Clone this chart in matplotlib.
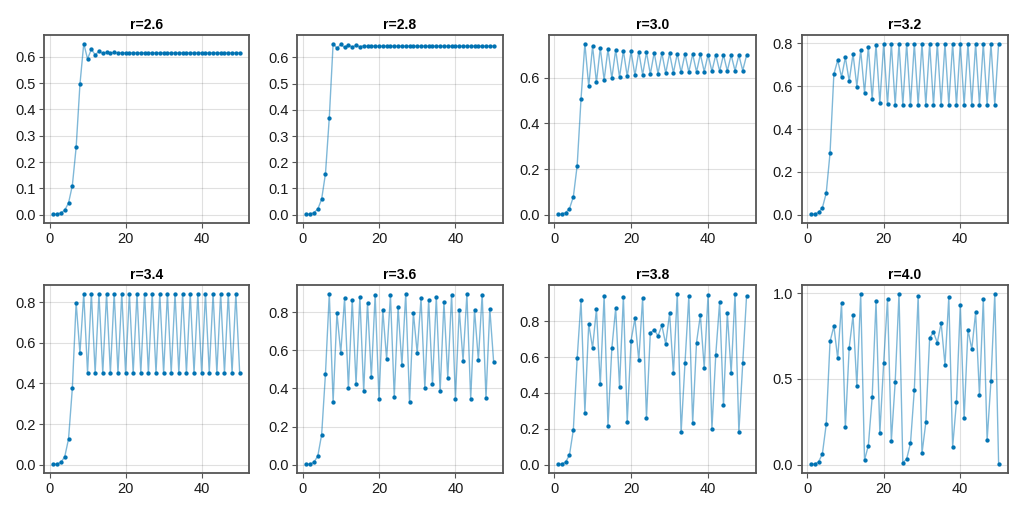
import matplotlib
matplotlib.use("Agg")
import matplotlib.pyplot as plt
from matplotlib.ticker import FormatStrFormatter

plt.rcParams['font.family'] = ['Liberation Sans', 'DejaVu Sans']

steps = list(range(1, 51))

# values, one list per r
x_r26 = [0.001, 0.0026, 0.0067, 0.0174, 0.0445, 0.1105, 0.2556, 0.4947, 0.6499, 0.5916,
         0.6283, 0.6073, 0.6201, 0.6125, 0.6171, 0.6144, 0.6160, 0.6151, 0.6156, 0.6153,
         0.6155, 0.6154, 0.6154, 0.6154, 0.6154, 0.6154, 0.6154, 0.6154, 0.6154, 0.6154,
         0.6154, 0.6154, 0.6154, 0.6154, 0.6154, 0.6154, 0.6154, 0.6154, 0.6154, 0.6154,
         0.6154, 0.6154, 0.6154, 0.6154, 0.6154, 0.6154, 0.6154, 0.6154, 0.6154, 0.6154]
x_r28 = [0.001, 0.0028, 0.0078, 0.0217, 0.0595, 0.1567, 0.3699, 0.6526, 0.6348, 0.6492,
         0.6377, 0.6469, 0.6396, 0.6454, 0.6408, 0.6445, 0.6415, 0.6439, 0.6420, 0.6435,
         0.6423, 0.6433, 0.6425, 0.6431, 0.6426, 0.6430, 0.6427, 0.6430, 0.6428, 0.6429,
         0.6428, 0.6429, 0.6428, 0.6429, 0.6428, 0.6429, 0.6429, 0.6429, 0.6429, 0.6429,
         0.6429, 0.6429, 0.6429, 0.6429, 0.6429, 0.6429, 0.6429, 0.6429, 0.6429, 0.6429]
x_r30 = [0.001, 0.0030, 0.0090, 0.0267, 0.0779, 0.2155, 0.5072, 0.7499, 0.5627, 0.7382,
         0.5798, 0.7309, 0.5901, 0.7257, 0.5972, 0.7217, 0.6026, 0.7184, 0.6069, 0.7157,
         0.6104, 0.7135, 0.6133, 0.7115, 0.6158, 0.7098, 0.6180, 0.7082, 0.6199, 0.7069,
         0.6216, 0.7056, 0.6232, 0.7045, 0.6246, 0.7035, 0.6258, 0.7025, 0.6270, 0.7017,
         0.6280, 0.7008, 0.6290, 0.7001, 0.6299, 0.6994, 0.6308, 0.6988, 0.6316, 0.6981]
x_r32 = [0.001, 0.0032, 0.0102, 0.0323, 0.1001, 0.2883, 0.6566, 0.7216, 0.6429, 0.7346,
         0.6238, 0.7509, 0.5985, 0.7690, 0.5685, 0.7850, 0.5401, 0.7949, 0.5218, 0.7985,
         0.5149, 0.7993, 0.5133, 0.7994, 0.5131, 0.7995, 0.5130, 0.7995, 0.5130, 0.7995,
         0.5130, 0.7995, 0.5130, 0.7995, 0.5130, 0.7995, 0.5130, 0.7995, 0.5130, 0.7995,
         0.5130, 0.7995, 0.5130, 0.7995, 0.5130, 0.7995, 0.5130, 0.7995, 0.5130, 0.7995]
x_r34 = [0.001, 0.0034, 0.0115, 0.0387, 0.1266, 0.3758, 0.7976, 0.5489, 0.8419, 0.4526,
         0.8424, 0.4515, 0.8422, 0.4521, 0.8422, 0.4520, 0.8422, 0.4520, 0.8422, 0.4520,
         0.8422, 0.4520, 0.8422, 0.4520, 0.8422, 0.4520, 0.8422, 0.4520, 0.8422, 0.4520,
         0.8422, 0.4520, 0.8422, 0.4520, 0.8422, 0.4520, 0.8422, 0.4520, 0.8422, 0.4520,
         0.8422, 0.4520, 0.8422, 0.4520, 0.8422, 0.4520, 0.8422, 0.4520, 0.8422, 0.4520]
x_r36 = [0.001, 0.0036, 0.0129, 0.0459, 0.1576, 0.4779, 0.8982, 0.3291, 0.7948, 0.5871,
         0.874, 0.401, 0.865, 0.424, 0.881, 0.384, 0.851, 0.459, 0.893, 0.342,
         0.811, 0.555, 0.890, 0.356, 0.825, 0.522, 0.898, 0.329, 0.797, 0.587,
         0.874, 0.401, 0.865, 0.424, 0.881, 0.384, 0.853, 0.455, 0.893, 0.345,
         0.814, 0.545, 0.895, 0.345, 0.814, 0.548, 0.893, 0.349, 0.818, 0.539]
x_r38 = [0.001, 0.0038, 0.0144, 0.0539, 0.1937, 0.5935, 0.9168, 0.290, 0.785, 0.651,
         0.867, 0.447, 0.943, 0.217, 0.648, 0.872, 0.434, 0.937, 0.239, 0.692,
         0.815, 0.581, 0.930, 0.262, 0.735, 0.752, 0.718, 0.776, 0.672, 0.845,
         0.509, 0.954, 0.180, 0.564, 0.939, 0.232, 0.681, 0.833, 0.540, 0.948,
         0.200, 0.613, 0.906, 0.332, 0.845, 0.509, 0.954, 0.180, 0.564, 0.941]
x_r40 = [0.001, 0.0040, 0.0159, 0.0627, 0.235, 0.719, 0.808, 0.620, 0.942, 0.218,
         0.682, 0.871, 0.458, 0.994, 0.027, 0.111, 0.394, 0.955, 0.183, 0.595,
         0.967, 0.138, 0.480, 0.998, 0.010, 0.033, 0.125, 0.437, 0.986, 0.066,
         0.246, 0.741, 0.772, 0.713, 0.827, 0.583, 0.977, 0.103, 0.366, 0.934,
         0.271, 0.789, 0.673, 0.889, 0.405, 0.967, 0.142, 0.487, 0.999, 0.006]

series = [("r=2.6", x_r26), ("r=2.8", x_r28), ("r=3.0", x_r30), ("r=3.2", x_r32),
          ("r=3.4", x_r34), ("r=3.6", x_r36), ("r=3.8", x_r38), ("r=4.0", x_r40)]
yticks = [[0, 0.1, 0.2, 0.3, 0.4, 0.5, 0.6], [0, 0.1, 0.2, 0.3, 0.4, 0.5, 0.6],
          [0, 0.2, 0.4, 0.6], [0, 0.2, 0.4, 0.6, 0.8],
          [0, 0.2, 0.4, 0.6, 0.8], [0, 0.2, 0.4, 0.6, 0.8],
          [0, 0.2, 0.4, 0.6, 0.8], [0, 0.5, 1.0]]

BLUE = "#0072B2"
W, H = 1024, 512
cols = [(44, 249), (297, 503), (548.5, 756), (801.5, 1008)]
rows = [(35, 223), (285, 473)]

fig = plt.figure(figsize=(W / 100, H / 100), dpi=100)

for i, (title, vals) in enumerate(series):
    (l, r), (t, b) = cols[i % 4], rows[i // 4]
    ax = fig.add_axes([l / W, 1 - b / H, (r - l) / W, (b - t) / H])
    ax.plot(steps, vals, color=BLUE, alpha=0.5, lw=1.0, zorder=2)
    ax.plot(steps, vals, ls="none", marker="o", ms=2.1, color=BLUE, zorder=3)
    ax.set_title(title, fontsize=10, fontweight="bold", pad=4)
    ax.set_xticks([0, 20, 40])
    ax.set_yticks(yticks[i])
    ax.yaxis.set_major_formatter(FormatStrFormatter("%.1f"))
    ax.grid(True, color="black", alpha=0.12, lw=0.8)
    ax.set_axisbelow(True)
    ax.tick_params(labelsize=10.5, length=3.6, width=0.8, pad=2.6,
                   color="#555", labelcolor="#1a1a1a")
    for s in ax.spines.values():
        s.set_color("#555")
        s.set_linewidth(1.3)

fig.savefig("out.png", dpi=100)
